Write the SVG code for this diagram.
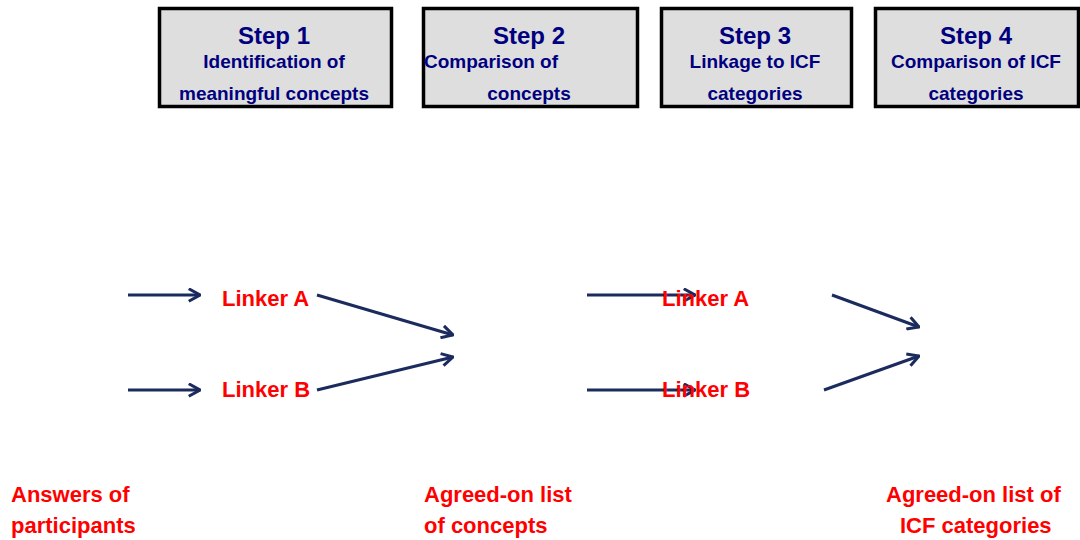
<svg xmlns="http://www.w3.org/2000/svg" width="1080" height="540" viewBox="0 0 1080 540">
<style>
.box{fill:#dedede;stroke:#000;stroke-width:3.5}
.st{font-family:"Liberation Sans",Arial,sans-serif;font-weight:bold;fill:#00007f;font-size:24px;text-anchor:middle}
.sub{font-family:"Liberation Sans",Arial,sans-serif;font-weight:bold;fill:#00007f;font-size:19px;text-anchor:middle}
.red{font-family:"Liberation Sans",Arial,sans-serif;font-weight:bold;fill:#ff0000;font-size:22px}
.ar{stroke:#1c2b5e;stroke-width:3;fill:none;marker-end:url(#ah)}
</style>
<defs>
<marker id="ah" viewBox="0 0 12 12" refX="11" refY="6" markerWidth="5" markerHeight="5" orient="auto" markerUnits="strokeWidth">
<path d="M2,1 L11,6 L2,11" fill="none" stroke="#1c2b5e" stroke-width="2.4"/>
</marker>
</defs>
<rect width="1080" height="540" fill="#fff"/>
<g id="step1"><rect class="box" x="159.5" y="8.5" width="232" height="98"/>
<text class="st" x="274" y="44">Step 1</text>
<text class="sub" x="274" y="68">Identification of</text>
<text class="sub" x="274" y="100">meaningful concepts</text></g>
<g id="step2"><rect class="box" x="423.5" y="8.5" width="214" height="98"/>
<text class="st" x="529" y="44">Step 2</text>
<text class="sub" x="424" y="68" style="text-anchor:start">Comparison of</text>
<text class="sub" x="529" y="100">concepts</text></g>
<g id="step3"><rect class="box" x="661.5" y="8.5" width="190" height="98"/>
<text class="st" x="755" y="44">Step 3</text>
<text class="sub" x="755" y="68">Linkage to ICF</text>
<text class="sub" x="755" y="100">categories</text></g>
<g id="step4"><rect class="box" x="875.5" y="8.5" width="203" height="98"/>
<text class="st" x="976" y="44">Step 4</text>
<text class="sub" x="976" y="68">Comparison of ICF</text>
<text class="sub" x="976" y="100">categories</text></g>
<g id="connectors">
<line class="ar" x1="128" y1="295" x2="200" y2="295"/>
<line class="ar" x1="128" y1="390" x2="200" y2="390"/>
<line class="ar" x1="317" y1="295" x2="453" y2="335"/>
<line class="ar" x1="317" y1="390" x2="453" y2="357"/>
<line class="ar" x1="587" y1="295" x2="695" y2="295"/>
<line class="ar" x1="587" y1="390" x2="695" y2="390"/>
<line class="ar" x1="832" y1="295" x2="919" y2="327"/>
<line class="ar" x1="824" y1="390" x2="919" y2="356"/>
</g>
<g id="linkers">
<text class="red" x="222" y="306">Linker A</text>
<text class="red" x="222" y="397">Linker B</text>
<text class="red" x="662" y="306">Linker A</text>
<text class="red" x="662" y="397">Linker B</text>
</g>
<g id="labels">
<text class="red" x="11" y="502">Answers of</text>
<text class="red" x="11" y="533">participants</text>
<text class="red" x="424" y="502">Agreed-on list</text>
<text class="red" x="424" y="533">of concepts</text>
<text class="red" x="886" y="502">Agreed-on list of</text>
<text class="red" x="900" y="533">ICF categories</text>
</g>
</svg>
